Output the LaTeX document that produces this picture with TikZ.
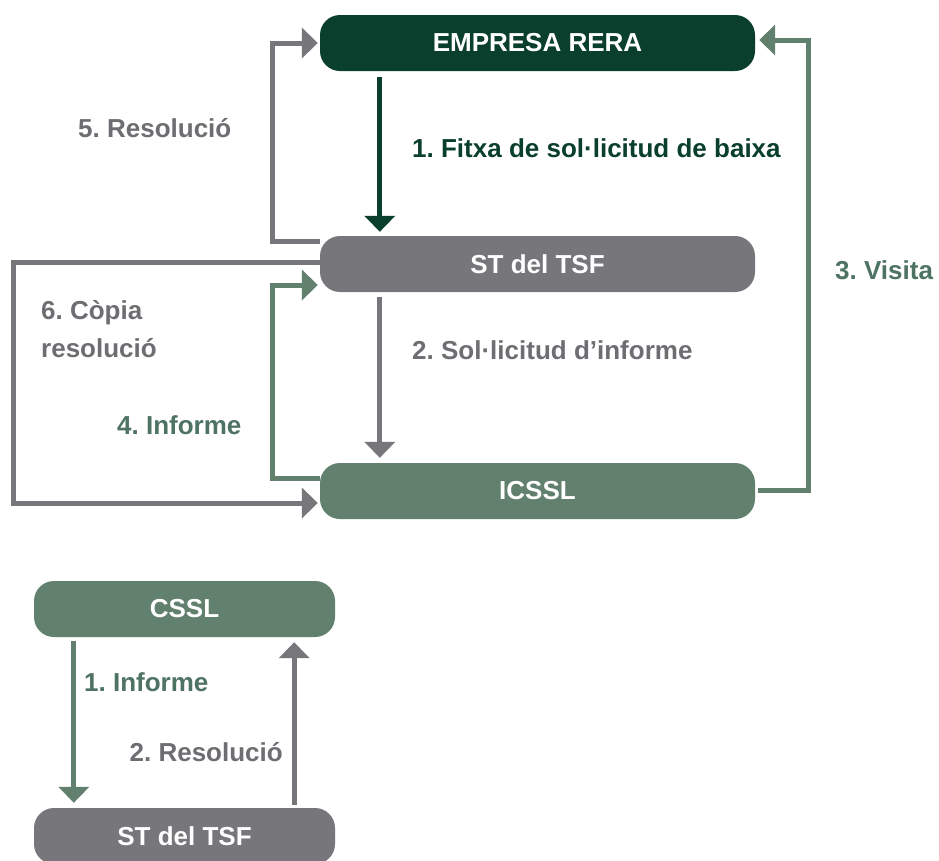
\documentclass[tikz,border=0pt]{standalone}
\usepackage{fontspec}
\setmainfont{Liberation Sans}
\usetikzlibrary{arrows.meta,calc,positioning}
\definecolor{reradark}{HTML}{0B3F2D}
\definecolor{reragreen}{HTML}{62806E}
\definecolor{reragrey}{HTML}{77777B}
\definecolor{labelgrey}{HTML}{6D6E71}
\definecolor{labelgreen}{HTML}{4E7362}
\tikzset{
    box/.style={rounded corners=20pt, minimum height=56pt, inner sep=0pt,
        text=white, font=\fontsize{26}{30}\selectfont\bfseries},
    flow/.style={line width=5pt, -{Triangle[width=30pt,length=16pt]}},
    lbl/.style={font=\fontsize{26}{38}\selectfont\bfseries, inner sep=0pt}
}
\frenchspacing

\begin{document}
\begin{tikzpicture}[x=1pt,y=-1pt]
    \clip (0,0) rectangle (939,860);
    \fill[white] (0,0) rectangle (939,860);

    % Main boxes
    \node[box, fill=reradark, minimum width=435pt] (empresa) at (537.5,43) {EMPRESA RERA};
    \node[box, fill=reragrey, minimum width=435pt] (st) at (537.5,264) {ST del TSF};
    \node[box, fill=reragreen, minimum width=435pt] (icssl) at (537.5,491) {ICSSL};

    % Lower boxes
    \node[box, fill=reragreen, minimum width=301pt] (cssl) at (184.5,609) {CSSL};
    \node[box, fill=reragrey, minimum width=301pt] (st2) at (184.5,836) {ST del TSF};

    % 1. Fitxa
    \draw[flow, draw=reradark] ($(empresa.south west)+(60,6)$) -- ($(st.north west)+(60,-4)$);
    \node[lbl, text=reradark, anchor=west] (lfitxa) at (412,148) {1. Fitxa de sol·licitud de baixa};

    % 2. Sol·licitud
    \draw[flow, draw=reragrey] ($(st.south west)+(60,5)$) -- ($(icssl.north west)+(60,-5)$);
    \node[lbl, text=labelgrey, anchor=west] (lsol) at (412,350) {2. Sol·licitud d’informe};

    % 3. Visita
    \draw[flow, draw=reragreen] ($(icssl.east)+(3,-1)$) -| ($(empresa.east)+(53,-3)$) -- ($(empresa.east)+(4,-3)$);
    \node[lbl, text=labelgreen, anchor=west] (lvisita) at (835,270) {3. Visita};

    % 4. Informe
    \draw[flow, draw=reragreen] ($(icssl.west)+(0,-13)$) -| ($(st.west)+(-47,21)$) -- ($(st.west)+(-2,21)$);
    \node[lbl, text=labelgreen, anchor=west] (linforme) at (117,425) {4. Informe};

    % 5. Resolucio
    \draw[flow, draw=reragrey] ($(st.north west)+(0,6)$) -| ($(empresa.west)+(-47,0)$) -- ($(empresa.west)+(-2,0)$);
    \node[lbl, text=labelgrey, anchor=west] (lres) at (78,128) {5. Resolució};

    % 6. Copia resolucio
    \draw[flow, draw=reragrey] ($(st.west)+(0,-2)$) -| ($(icssl.west)+(-306,12)$) -- ($(icssl.west)+(-2,12)$);
    \node[lbl, text=labelgrey, anchor=west, align=left] (lcopia) at (41,329) {6. Còpia\\resolució};

    % Lower arrows
    \draw[flow, draw=reragreen] ($(cssl.south west)+(40,4)$) -- ($(st2.north west)+(40,-5)$);
    \node[lbl, text=labelgreen, anchor=west] (linf2) at (84,682) {1. Informe};
    \draw[flow, draw=reragrey] ($(st2.north east)+(-41,-3)$) -- ($(cssl.south east)+(-41,5)$);
    \node[lbl, text=labelgrey, anchor=east] (lres2) at (283,752) {2. Resolució};
\end{tikzpicture}
\end{document}
